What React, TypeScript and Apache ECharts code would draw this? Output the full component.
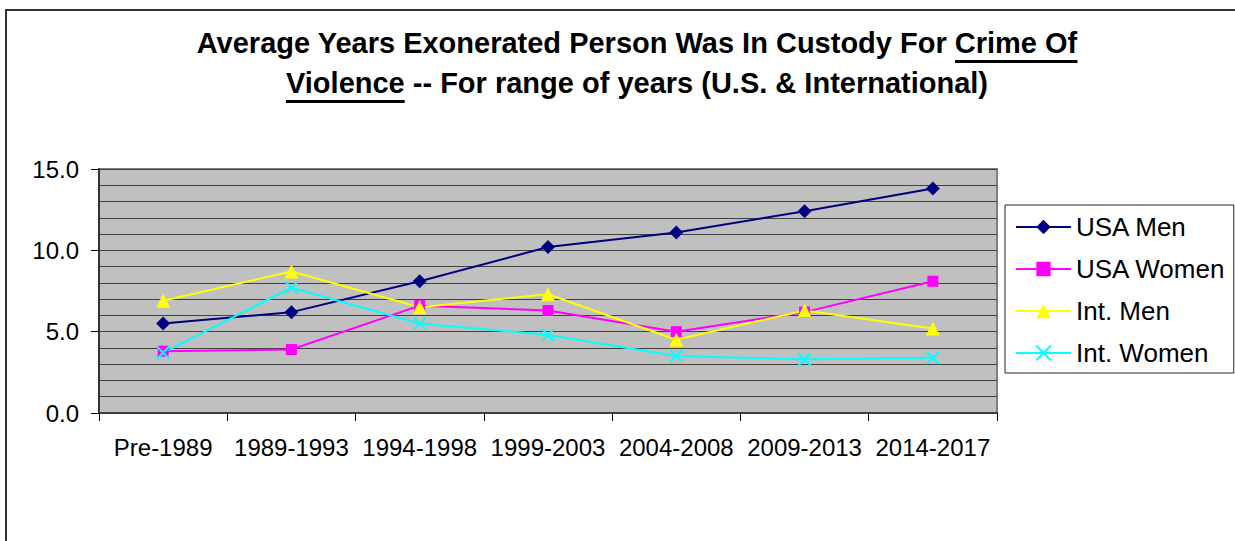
import React, { useEffect, useRef } from "react";
import * as echarts from "echarts";

// Periods on the x axis
const categories = [
  "Pre-1989",
  "1989-1993",
  "1994-1998",
  "1999-2003",
  "2004-2008",
  "2009-2013",
  "2014-2017",
];

// Average years in custody, per group
const usaMen = [5.5, 6.2, 8.1, 10.2, 11.1, 12.4, 13.8];
const usaWomen = [3.8, 3.9, 6.6, 6.3, 5.0, 6.2, 8.1];
const intMen = [6.9, 8.7, 6.5, 7.3, 4.5, 6.3, 5.2];
const intWomen = [3.7, 7.7, 5.5, 4.8, 3.5, 3.3, 3.4];

const seriesNames = ["USA Men", "USA Women", "Int. Men", "Int. Women"];
const seriesColors = ["#000080", "#ff00ff", "#ffff00", "#00ffff"];

// Title lines; the underlined part sits at the end of line 1 and the start of line 2
const titleLine1Lead = "Average Years Exonerated Person Was In Custody For ";
const titleLine1Under = "Crime Of";
const titleLine2Under = "Violence";
const titleLine2Tail = " -- For range of years (U.S. & International)";

const FONT = '"Liberation Sans", Arial, Helvetica, sans-serif';

function measure(text: string, font: string): number {
  const c = document.createElement("canvas");
  const ctx = c.getContext("2d");
  if (!ctx) return text.length * 13;
  ctx.font = font;
  return ctx.measureText(text).width;
}

function buildTitle(): any[] {
  const size = 29;
  const titleFont = `bold ${size}px ${FONT}`;
  const cx = 637;
  const base1 = 53;
  const base2 = 93;
  const line1 = titleLine1Lead + titleLine1Under;
  const line2 = titleLine2Under + titleLine2Tail;
  const w1 = measure(line1, titleFont);
  const w1lead = measure(titleLine1Lead, titleFont);
  const w2 = measure(line2, titleFont);
  const w2under = measure(titleLine2Under, titleFont);
  const l1x = cx - w1 / 2;
  const l2x = cx - w2 / 2;
  const mid = size * 0.35;
  return [
    {
      type: "text",
      x: cx,
      y: base1 - mid,
      silent: true,
      style: {
        text: line1,
        font: titleFont,
        fill: "#000",
        textAlign: "center",
        textVerticalAlign: "middle",
      },
    },
    {
      type: "text",
      x: cx,
      y: base2 - mid,
      silent: true,
      style: {
        text: line2,
        font: titleFont,
        fill: "#000",
        textAlign: "center",
        textVerticalAlign: "middle",
      },
    },
    {
      type: "line",
      silent: true,
      shape: { x1: l1x + w1lead, y1: base1 + 8.5, x2: l1x + w1, y2: base1 + 8.5 },
      style: { stroke: "#000", lineWidth: 3 },
    },
    {
      type: "line",
      silent: true,
      shape: { x1: l2x, y1: base2 + 8.5, x2: l2x + w2under, y2: base2 + 8.5 },
      style: { stroke: "#000", lineWidth: 3 },
    },
  ];
}

export default function App() {
  const ref = useRef<HTMLDivElement>(null);

  useEffect(() => {
    if (!ref.current) return;
    const chart = echarts.init(ref.current, null, { renderer: "svg" });

    const lineSeries = (name: string, data: number[], color: string, symbol: string, size: number) => ({
      name,
      type: "line",
      data,
      symbol,
      symbolSize: size,
      lineStyle: { color, width: 2 },
      itemStyle: { color, borderColor: color, borderWidth: symbol.startsWith("path://") ? 2 : 0 },
      emphasis: { disabled: true },
    });

    chart.setOption({
      animation: false,
      backgroundColor: "#ffffff",
      textStyle: { fontFamily: FONT },
      graphic: [
        {
          type: "rect",
          silent: true,
          z: -10,
          shape: { x: 6, y: 10, width: 1400, height: 800 },
          style: { fill: "none", stroke: "#333333", lineWidth: 2 },
        },
        ...buildTitle(),
      ],
      grid: {
        left: 99,
        top: 169,
        width: 898,
        height: 244,
        show: true,
        backgroundColor: "#c0c0c0",
        borderColor: "#808080",
        borderWidth: 2,
      },
      legend: {
        orient: "vertical",
        left: 1005,
        top: 205,
        padding: [9, 8, 7, 10],
        itemWidth: 55,
        itemHeight: 18,
        itemGap: 16,
        backgroundColor: "#ffffff",
        borderColor: "#222222",
        borderWidth: 1,
        textStyle: { fontSize: 26, color: "#000", fontFamily: FONT },
        data: seriesNames,
      },
      xAxis: {
        type: "category",
        data: categories,
        boundaryGap: true,
        axisLine: { show: true, lineStyle: { color: "#404040", width: 2 } },
        axisTick: { show: true, length: 8, lineStyle: { color: "#000", width: 1 } },
        axisLabel: { interval: 0, fontSize: 24, color: "#000", fontFamily: FONT, margin: 22 },
        splitLine: { show: false },
      },
      yAxis: {
        type: "value",
        min: 0,
        max: 15,
        interval: 5,
        axisLine: { show: true, lineStyle: { color: "#333333", width: 2 } },
        axisTick: { show: true, length: 8, lineStyle: { color: "#000", width: 1 } },
        axisLabel: {
          fontSize: 24,
          color: "#000",
          fontFamily: FONT,
          margin: 20,
          formatter: (v: number) => v.toFixed(1),
        },
        splitLine: { show: true, lineStyle: { color: "#404040", width: 1 } },
        minorTick: { show: false, splitNumber: 5 },
        minorSplitLine: { show: true, lineStyle: { color: "#404040", width: 1 } },
      },
      series: [
        lineSeries(seriesNames[0], usaMen, seriesColors[0], "diamond", 14),
        lineSeries(seriesNames[1], usaWomen, seriesColors[1], "rect", 11),
        lineSeries(seriesNames[2], intMen, seriesColors[2], "triangle", 14),
        lineSeries(seriesNames[3], intWomen, seriesColors[3], "path://M0 0L10 10M10 0L0 10", 12),
      ],
    });

    return () => chart.dispose();
  }, []);

  return (
    <div
      style={{ position: "fixed", left: 0, top: 0, width: 1235, height: 541, background: "#fff" }}
    >
      <div ref={ref} style={{ width: 1235, height: 541 }} />
    </div>
  );
}
